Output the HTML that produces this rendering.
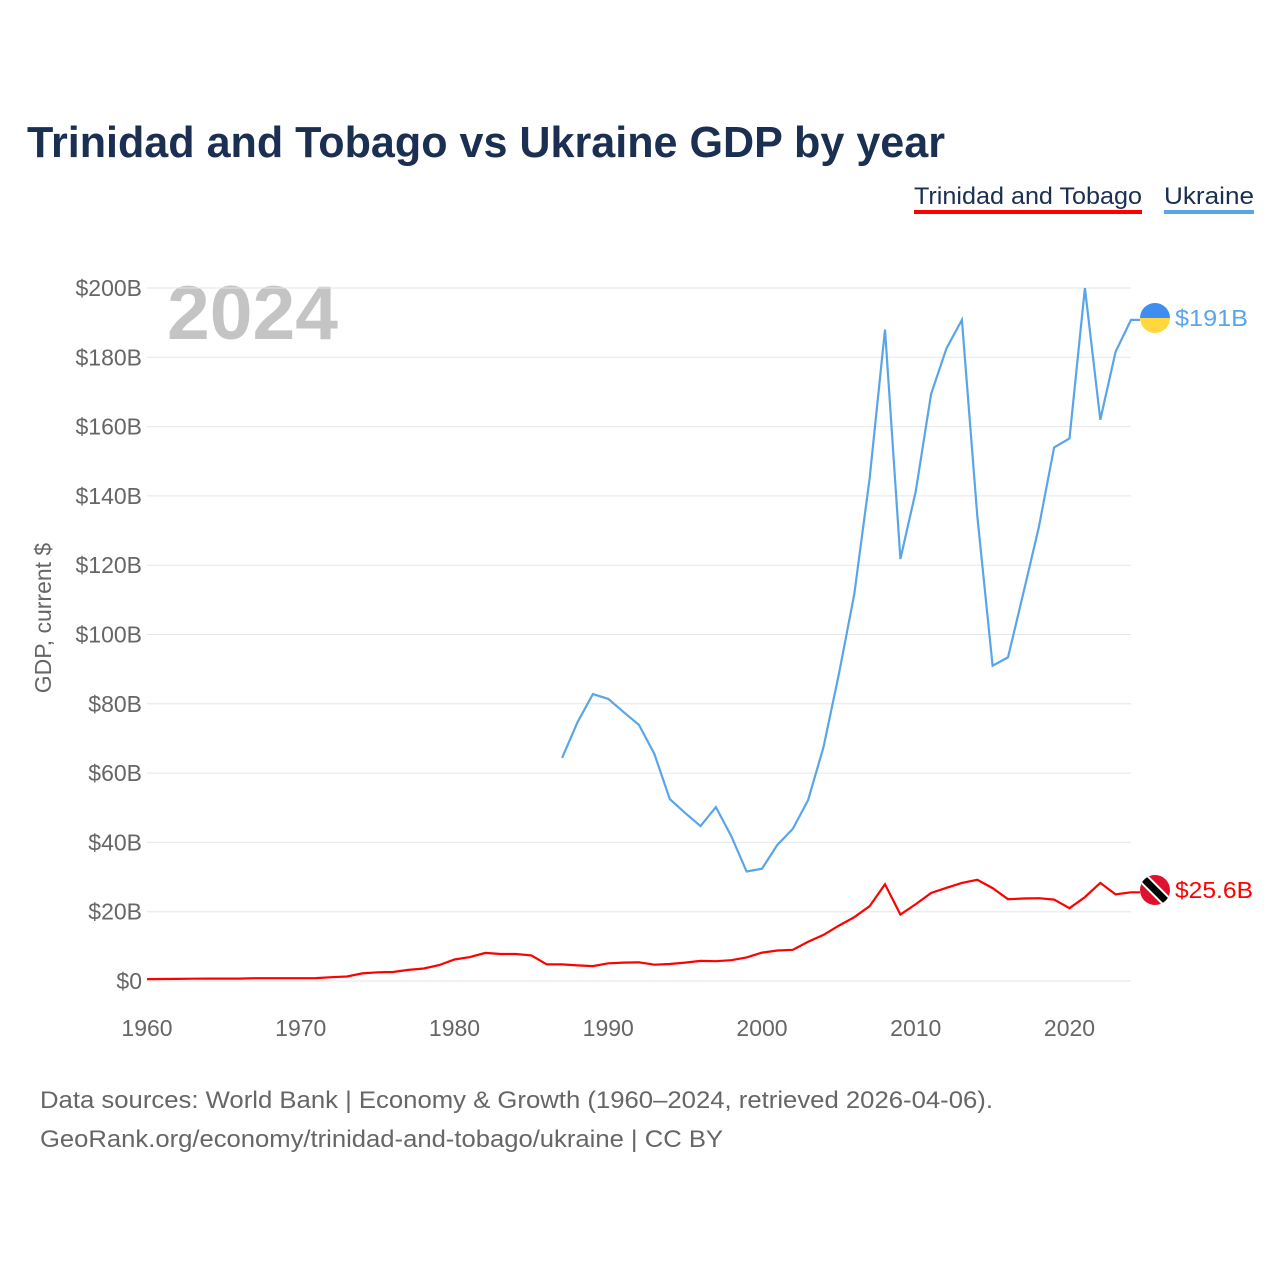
<!DOCTYPE html>
<html><head><meta charset="utf-8"><style>
body{margin:0;background:#fff;width:1280px;height:1280px;overflow:hidden;font-family:"Liberation Sans",sans-serif}
</style></head><body>
<svg width="1280" height="1280" xmlns="http://www.w3.org/2000/svg">
<text x="27" y="157" font-size="44" font-weight="bold" fill="#1b2f52" textLength="918" lengthAdjust="spacingAndGlyphs">Trinidad and Tobago vs Ukraine GDP by year</text>
<g>
<text x="914" y="204" font-size="24" fill="#1b2f52" textLength="228" lengthAdjust="spacingAndGlyphs">Trinidad and Tobago</text>
<rect x="914" y="210" width="228" height="4" fill="#ff0000"/>
<text x="1164" y="204" font-size="24" fill="#1b2f52" textLength="90" lengthAdjust="spacingAndGlyphs">Ukraine</text>
<rect x="1164" y="210" width="90" height="4" fill="#5aa5e8"/>
</g>
<text x="167" y="339" font-size="76" font-weight="bold" fill="#c4c4c4" textLength="171" lengthAdjust="spacingAndGlyphs">2024</text>
<text transform="translate(51,618) rotate(-90)" font-size="23" fill="#666" text-anchor="middle">GDP, current $</text>
<g id="grid"></g><g id="ticks"></g>
<path id="tt" fill="none" stroke="#ff0000" stroke-width="2.2"/>
<path id="ua" fill="none" stroke="#5aa5e8" stroke-width="2.2"/>
<g>
<clipPath id="c1"><circle cx="1155" cy="318" r="15"/></clipPath>
<g clip-path="url(#c1)"><rect x="1140" y="303" width="30" height="15" fill="#3d8ef0"/><rect x="1140" y="318" width="30" height="15" fill="#ffd83d"/></g>
</g>
<text x="1175" y="326" font-size="23" fill="#5aa5e8" textLength="73" lengthAdjust="spacingAndGlyphs">$191B</text>
<g>
<clipPath id="c2"><circle cx="1155" cy="890" r="15"/></clipPath>
<g clip-path="url(#c2)"><rect x="1140" y="875" width="30" height="30" fill="#e0102f"/>
<line x1="1140" y1="875" x2="1170" y2="905" stroke="#fff" stroke-width="11"/>
<line x1="1140" y1="875" x2="1170" y2="905" stroke="#000" stroke-width="7"/></g>
</g>
<text x="1175" y="898" font-size="23" fill="#ff0000" textLength="78" lengthAdjust="spacingAndGlyphs">$25.6B</text>
<text x="40" y="1108" font-size="24" fill="#666" textLength="953" lengthAdjust="spacingAndGlyphs">Data sources: World Bank | Economy &amp; Growth (1960–2024, retrieved 2026-04-06).</text>
<text x="40" y="1147" font-size="24" fill="#666" textLength="683" lengthAdjust="spacingAndGlyphs">GeoRank.org/economy/trinidad-and-tobago/ukraine | CC BY</text>
</svg>
<script>
const yTicks=[0,20,40,60,80,100,120,140,160,180,200];
const xTicks=[1960,1970,1980,1990,2000,2010,2020];
const ttStart=1960;
const ttValues=[0.54,0.58,0.62,0.67,0.7,0.7,0.7,0.8,0.8,0.8,0.8,0.85,1.1,1.3,2.2,2.5,2.6,3.2,3.6,4.6,6.2,6.9,8.1,7.8,7.8,7.4,4.8,4.8,4.5,4.3,5.1,5.3,5.4,4.7,4.9,5.3,5.8,5.7,6.0,6.8,8.2,8.8,9.0,11.3,13.3,16.0,18.4,21.6,27.9,19.2,22.2,25.4,26.9,28.3,29.2,26.8,23.6,23.8,23.9,23.5,21.0,24.2,28.3,25.0,25.6];
const uaStart=1987;
const uaValues=[64.4,74.7,82.8,81.4,77.6,73.9,65.5,52.5,48.5,44.7,50.2,41.8,31.6,32.4,39.3,43.9,52.2,67.5,88.6,111.7,145,188,121.8,141.4,169.4,182.6,190.8,134.2,91,93.4,112,130.9,154,156.6,200,162,181.6,190.8];
const X=y=>147+(y-1960)*(1131-147)/64;
const Y=v=>981-v*(981-288)/200;
const NS="http://www.w3.org/2000/svg";
const grid=document.getElementById('grid'),ticks=document.getElementById('ticks');
yTicks.forEach(v=>{
 const l=document.createElementNS(NS,'line');
 l.setAttribute('x1',147);l.setAttribute('x2',1131);l.setAttribute('y1',Y(v));l.setAttribute('y2',Y(v));
 l.setAttribute('stroke','#e6e6e6');l.setAttribute('stroke-width','1');
 
 
 grid.appendChild(l);
 const t=document.createElementNS(NS,'text');
 t.setAttribute('x',142);t.setAttribute('y',Y(v)+8);t.setAttribute('text-anchor','end');
 t.setAttribute('font-size','23');t.setAttribute('fill','#666');
 t.textContent='$'+v+(v?'B':'');
 
 
 ticks.appendChild(t);
});
xTicks.forEach(y=>{
 const t=document.createElementNS(NS,'text');
 t.setAttribute('x',X(y));t.setAttribute('y',1036);t.setAttribute('text-anchor','middle');
 t.setAttribute('font-size','23');t.setAttribute('fill','#666');
 t.textContent=y;
 
 
 ticks.appendChild(t);
});
const path=(s,vals)=>vals.map((v,i)=>(i?'L':'M')+X(s+i).toFixed(1)+','+Y(v).toFixed(1)).join('');
document.getElementById('tt').setAttribute('d',path(ttStart,ttValues)+'L1140,'+Y(ttValues[ttValues.length-1]).toFixed(1));
document.getElementById('ua').setAttribute('d',path(uaStart,uaValues)+'L1140,'+Y(uaValues[uaValues.length-1]).toFixed(1));
</script>
</body></html>
